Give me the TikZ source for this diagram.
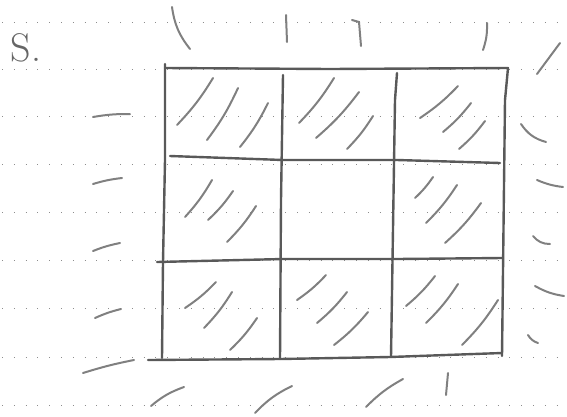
\documentclass[tikz,border=0pt]{standalone}
\usepackage{tikz}

\begin{document}
\begin{tikzpicture}[x=1pt,y=-1pt,
  ruled/.style={black!45,line width=0.8pt,dash pattern=on 0.8pt off 11pt},
  frame/.style={black!65,line width=2.4pt,line cap=round,line join=round},
  hatch/.style={black!50,line width=2pt,line cap=round},
  tick/.style={black!50,line width=2pt,line cap=round}]

\useasboundingbox (0,0) rectangle (567,416);

% Draw the ruled lines of the page
\foreach \y in {22.7,69.3,116.7,164.3,212.7,260.7,308.7,357,405}
  \draw[ruled] (2,\y) -- (567,\y);

% Label
\node[black!60,font=\fontsize{40}{40}\selectfont] (label) at (26,48) {S.};

% Draw the grid
\draw[frame] (165,64) -- (165,160) -- (163,262) -- (162,358);
\draw[frame] (165,68) -- (330,69) -- (508,68) -- (505,100) -- (502,356);
\draw[frame] (148,360) -- (280,359) -- (390,357) -- (502,353);
\draw[frame] (283,75) -- (281,200) -- (280,359);
\draw[frame] (397,73) -- (395,100) -- (391,357);
\draw[frame] (170,156) -- (283,160) -- (397,160) -- (500,163);
\draw[frame] (157,262) -- (283,259) -- (397,259) -- (502,258);

% Hatching in the cells
\foreach \a/\b/\c/\d in {
  177/125/213/78, 207/140/238/88, 240/147/268/103,
  299/123/334/78, 316/138/359/92, 347/149/373/116,
  420/118/458/86, 443/132/471/103, 459/149/485/121,
  185/217/212/180, 208/220/233/191, 227/242/256/206,
  415/198/433/177, 426/223/457/185, 445/243/481/203,
  185/308/216/282, 204/328/232/292, 230/350/257/318,
  297/300/326/275, 317/323/347/292, 334/345/368/312,
  406/306/435/276, 426/323/458/284, 462/345/498/300}
  \draw[hatch] (\a,\b) to[bend right=6] (\c,\d);

% Ticks around the grid: top
\draw[tick] (172,7) to[bend right=15] (190,49);
\draw[tick] (286,15) -- (287,42);
\draw[tick] (352,20) -- (359,22) -- (361,46);
\draw[tick] (487,23) to[bend left=10] (483,50);
\draw[tick] (560,43) -- (537,74);

% Ticks around the grid: left
\draw[tick] (93,117) to[bend left=5] (130,114);
\draw[tick] (93,184) to[bend left=5] (122,178);
\draw[tick] (93,251) to[bend left=5] (120,243);
\draw[tick] (95,318) to[bend left=5] (121,309);
\draw[tick] (83,373) to[bend left=3] (134,360);

% Ticks around the grid: right
\draw[tick] (521,124) to[bend right=20] (546,142);
\draw[tick] (537,180) to[bend right=8] (563,187);
\draw[tick] (533,236) to[bend right=25] (550,244);
\draw[tick] (535,286) to[bend right=10] (564,296);
\draw[tick] (528,335) to[bend right=20] (538,343);

% Ticks around the grid: bottom
\draw[tick] (151,406) to[bend left=10] (184,387);
\draw[tick] (255,413) to[bend left=10] (292,386);
\draw[tick] (366,407) to[bend left=8] (403,379);
\draw[tick] (448,373) -- (446,395);

\end{tikzpicture}
\end{document}
